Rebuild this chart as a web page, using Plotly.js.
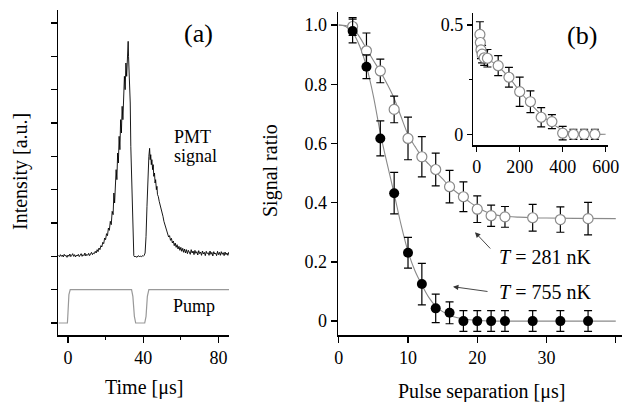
<!DOCTYPE html>
<html>
<head>
<meta charset="utf-8">
<script src="https://cdn.plot.ly/plotly-3.0.1.min.js"></script>
<style>html,body{margin:0;padding:0;background:#fff;}#chart{width:624px;height:402px;}</style>
</head>
<body>
<div id="chart"></div>
<script>
// ---- Panel (a): PMT signal and pump trace ----
var pmtTime = [-5,-4.5,-4,-3.5,-3,-2.5,-2,-1.5,-1,-0.5,0,0.5,1,1.5,2,2.5,3,3.5,4,4.5,5,5.5,6,6.5,7,7.5,8,8.5,9,9.5,10,10.5,11,11.5,12,12.5,13,13.5,14,14.5,15,15.5,16,16.5,17,17.5,18,18.5,19,19.5,20,20.5,21,21.5,22,22.5,23,23.5,24,
  24.4,24.8,25.2,25.6,26,26.4,26.8,27.2,27.6,28,28.4,28.8,29.2,29.6,30,30.4,30.8,31.2,31.6,32,32.2,32.5,32.8,33.1,33.4,33.8,34.2,34.6,35,
  35.5,36,36.5,37,37.5,38,38.5,39,39.5,40,40.5,41,41.5,42,42.5,43,43.4,43.7,44,44.3,44.6,45,45.3,45.6,46,46.3,46.6,47,47.3,47.6,48,48.5,49,49.5,50,50.5,51,51.5,52,52.5,
  53,53.5,54,54.5,55,55.5,56,56.5,57,57.5,58,58.5,59,59.5,60,60.5,61,61.5,62,62.5,63,63.5,64,64.5,65,65.5,66,66.5,67,67.5,68,68.5,69,69.5,70,70.5,71,71.5,72,72.5,73,73.5,74,74.5,75,75.5,76,76.5,77,77.5,78,78.5,79,79.5,80,80.5,81,81.5,82,82.5,83,83.5,84,84.5,85,85.5,86];
var pmtSignal = [2.03,1.99,2.05,2.0,2.04,1.98,2.06,2.01,2.03,1.97,2.04,2.0,2.07,1.99,2.03,2.08,2.0,2.05,1.98,2.04,2.01,2.06,1.99,2.03,2.08,2.0,2.05,2.02,2.1,2.01,2.06,2.03,2.09,2.02,2.07,2.12,2.05,2.1,2.08,2.15,2.1,2.2,2.14,2.25,2.2,2.32,2.28,2.42,2.38,2.55,2.5,2.68,2.62,2.85,2.78,3.05,2.95,3.35,3.25,
  3.9,3.6,4.3,4.6,4.3,5.1,4.8,5.6,5.2,6.1,5.7,6.5,6.1,7.0,7.4,7.0,7.8,7.4,8.1,8.45,8.0,7.6,7.3,6.6,5.3,4.3,3.2,2.3,2.02,
  1.98,2.01,1.97,2.0,2.02,1.98,2.01,1.99,2.02,2.0,2.03,2.1,2.6,3.5,4.5,5.0,5.24,4.9,5.05,4.75,4.9,4.6,4.75,4.4,4.5,4.2,4.3,4.0,4.1,3.85,3.8,3.65,3.55,3.42,3.3,3.2,3.05,2.95,2.88,2.75,
  2.7,2.58,2.62,2.48,2.54,2.4,2.46,2.32,2.4,2.27,2.35,2.22,2.3,2.18,2.27,2.15,2.24,2.12,2.22,2.1,2.2,2.08,2.18,2.12,2.06,2.2,2.1,2.16,2.05,2.18,2.09,2.14,2.04,2.17,2.08,2.13,2.03,2.16,2.07,2.12,2.02,2.15,2.08,2.11,2.03,2.16,2.06,2.12,2.01,2.14,2.07,2.1,2.02,2.15,2.05,2.12,2.03,2.14,2.06,2.11,2.02,2.13,2.05,2.1,2.03,2.12,2.06];
var pumpTime = [-5,-0.3,0,0.5,1.2,33.8,34.5,35.3,36,40.8,41.5,42.2,43,86];
var pumpLevel = [0,0,0.3,0.85,1,1,0.8,0.2,0,0,0.2,0.8,1,1];

// ---- Panel (b): signal ratio vs pulse separation ----
var sepHot = [2,4,6,8,10,12,14,16,18,20,22,24,28,32,36];           // T = 755 nK (filled)
var ratioHot = [0.98,0.859,0.617,0.432,0.231,0.125,0.043,0.028,0,0,0,0,0,0,0];
var errHot = [0.04,0.04,0.059,0.07,0.052,0.07,0.048,0.037,0.035,0.035,0.035,0.035,0.035,0.035,0.035];
var sepCold = [2,4,6,8,10,12,14,16,18,20,22,24,28,32,36];          // T = 281 nK (open)
var ratioCold = [0.995,0.913,0.845,0.715,0.617,0.555,0.512,0.454,0.42,0.378,0.356,0.352,0.349,0.343,0.346];
var errCold = [0.03,0.06,0.04,0.045,0.072,0.068,0.055,0.055,0.05,0.045,0.036,0.035,0.045,0.043,0.055];
var fitColdX = [0,1,2,3,4,5,6,7,8,9,10,11,12,13,14,15,16,17,18,19,20,21,22,23,24,26,28,30,34,40];
var fitColdY = [1.0,0.998,0.99,0.96,0.92,0.88,0.843,0.8,0.752,0.69,0.63,0.59,0.555,0.53,0.505,0.48,0.455,0.435,0.418,0.4,0.385,0.372,0.363,0.357,0.354,0.351,0.349,0.348,0.347,0.346];
var fitHotX = [0,1,2,3,4,5,6,7,8,9,10,11,12,13,14,15,16,17,18,20,22,25,30,40];
var fitHotY = [1.0,0.995,0.975,0.93,0.86,0.76,0.635,0.53,0.43,0.325,0.235,0.17,0.122,0.08,0.05,0.032,0.02,0.012,0.007,0.002,0,0,0,0];

// ---- Inset ----
var insetX = [15,17,20,25,35,50,100,150,200,250,300,350,400,450,500,550];
var insetY = [0.457,0.42,0.386,0.367,0.35,0.348,0.314,0.261,0.195,0.149,0.078,0.058,0.005,0,0,0];
var insetErr = [0.058,0.04,0.04,0.04,0.035,0.04,0.046,0.045,0.067,0.05,0.044,0.032,0.031,0.023,0.023,0.023];
var insetFitX = [0,50,100,150,200,250,300,350,400,450,500,550,600];
var insetFitY = [0.355,0.345,0.31,0.26,0.197,0.14,0.09,0.05,0.02,0.007,0.002,0,0];

var FONT = 'Liberation Serif';
var GRAY = '#8a8a8a';

var traces = [
  {x: pumpTime, y: pumpLevel, xaxis:'x', yaxis:'y', mode:'lines', line:{color:'#999999', width:1.2}, hoverinfo:'skip'},
  {x: pmtTime, y: pmtSignal, xaxis:'x', yaxis:'y', mode:'lines', line:{color:'#000', width:0.9}, hoverinfo:'skip'},
  {x: fitColdX, y: fitColdY, xaxis:'x2', yaxis:'y2', mode:'lines', line:{color:GRAY, width:1.1, shape:'spline'}},
  {x: fitHotX, y: fitHotY, xaxis:'x2', yaxis:'y2', mode:'lines', line:{color:GRAY, width:1.1, shape:'spline'}},
  {x: sepCold, y: ratioCold, xaxis:'x2', yaxis:'y2', mode:'markers',
   marker:{symbol:'circle', size:10, color:'#fff', line:{color:GRAY, width:1.2}},
   error_y:{type:'data', array: errCold, color:'#000', thickness:1.2, width:4}},
  {x: sepHot, y: ratioHot, xaxis:'x2', yaxis:'y2', mode:'markers',
   marker:{symbol:'circle', size:10, color:'#000'},
   error_y:{type:'data', array: errHot, color:'#000', thickness:1.2, width:4}},
  {x: insetFitX, y: insetFitY, xaxis:'x3', yaxis:'y3', mode:'lines', line:{color:GRAY, width:1.1, shape:'spline'}},
  {x: insetX, y: insetY, xaxis:'x3', yaxis:'y3', mode:'markers',
   marker:{symbol:'circle', size:10, color:'#fff', line:{color:GRAY, width:1.2}},
   error_y:{type:'data', array: insetErr, color:'#000', thickness:1.2, width:4}}
];

function ax(o){
  var base = {showline:true, linecolor:'#000', linewidth:1.5, ticks:'outside', ticklen:6, tickwidth:1.3,
    tickcolor:'#000', showgrid:false, zeroline:false, mirror:false, fixedrange:true, automargin:false,
    tickfont:{family:FONT, size:18, color:'#000'}};
  for (var k in o) base[k] = o[k];
  return base;
}
function px(x){return x/624;}
function py(y){return 1 - y/402;}
function label(t, x, y, size, extra){
  var a = {text:t, x:px(x), y:py(y), xref:'paper', yref:'paper', showarrow:false,
           xanchor:'center', yanchor:'middle', font:{family:FONT, size:size, color:'#000'}};
  if (extra) for (var k in extra) a[k] = extra[k];
  return a;
}

var layout = {
  width:624, height:402, margin:{l:0,r:0,t:0,b:0,pad:0}, autosize:false,
  paper_bgcolor:'#fff', plot_bgcolor:'rgba(0,0,0,0)', showlegend:false,
  font:{family:FONT, color:'#000'},
  xaxis: ax({domain:[px(58),px(229)], range:[-5.3,85.6], tickvals:[0,40,80], anchor:'y',
             minor:{tickvals:[20,60], ticklen:3, ticks:'outside', tickcolor:'#000'}}),
  yaxis: ax({domain:[py(335),py(10)], range:[-0.36,9.39], tickvals:[0,1,2,3,4,5,6,7,8,9], showticklabels:false, anchor:'x'}),
  xaxis2: ax({domain:[px(338),px(622)], range:[-0.11,40.9], tickvals:[0,10,20,30,40], anchor:'y2'}),
  yaxis2: ax({domain:[py(335),py(12)], range:[-0.047,1.044], tickvals:[0,0.2,0.4,0.6,0.8,1.0],
              ticktext:['0','0.2','0.4','0.6','0.8','1.0'], anchor:'x2'}),
  xaxis3: ax({domain:[px(473.3),px(608)], range:[-15.8,611], tickvals:[0,200,400,600], anchor:'y3', ticklen:5}),
  yaxis3: ax({domain:[py(145),py(13)], range:[-0.049,0.555], tickvals:[0,0.5], ticktext:['0','0.5'], anchor:'x3', ticklen:5,
              minor:{tickvals:[0.25], ticklen:3, ticks:'outside', tickcolor:'#000'}}),
  annotations: [
    label('(a)', 198, 34, 26),
    label('(b)', 582, 35, 26),
    label('PMT', 192, 137, 18),
    label('signal', 195.5, 155.7, 18),
    label('Pump', 194.3, 305.7, 18),
    label('Time [\u03bcs]', 144, 387, 20),
    label('Pulse separation [\u03bcs]', 481, 391, 20),
    label('Intensity [a.u.]', 20, 172, 20, {textangle:-90}),
    label('Signal ratio', 270, 171, 20, {textangle:-90}),
    label('<i>T</i> = 281 nK', 497, 257, 20, {xanchor:'left'}),
    label('<i>T</i> = 755 nK', 497, 292, 20, {xanchor:'left'}),
    {text:'', x:px(475), y:py(232.3), xref:'paper', yref:'paper', showarrow:true, ax:16.7, ay:17.7,
     arrowhead:2, arrowsize:1.2, arrowwidth:0.9, arrowcolor:'#333', standoff:0},
    {text:'', x:px(453), y:py(286.7), xref:'paper', yref:'paper', showarrow:true, ax:36, ay:5,
     arrowhead:2, arrowsize:1.2, arrowwidth:0.9, arrowcolor:'#333', standoff:0}
  ]
};

Plotly.newPlot('chart', traces, layout, {staticPlot:true, displayModeBar:false});
</script>
</body>
</html>
